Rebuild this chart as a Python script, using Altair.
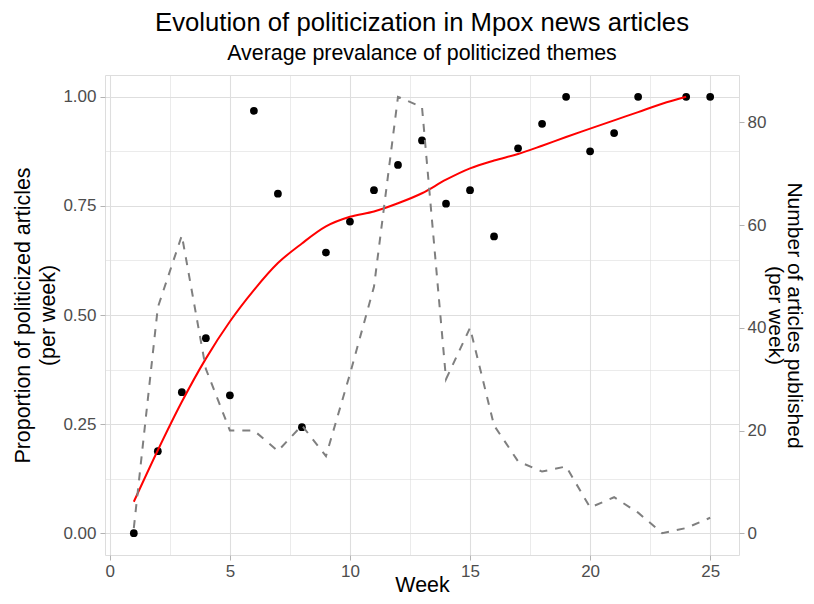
import altair as alt
import pandas as pd

weeks_prop = [1, 2, 3, 4, 5, 6, 7, 8, 9, 10, 11, 12, 13, 14, 15, 16, 17, 18, 19, 20, 21, 22, 24, 25]
proportion = [0.0, 0.188, 0.323, 0.447, 0.316, 0.968, 0.778, 0.243, 0.643, 0.714, 0.786, 0.844,
              0.900, 0.755, 0.786, 0.680, 0.882, 0.938, 1.0, 0.875, 0.917, 1.0, 1.0, 1.0]

weeks_smooth = list(range(1, 25))
smooth = [0.072, 0.19, 0.301, 0.40, 0.485, 0.557, 0.619, 0.664, 0.703, 0.725, 0.737, 0.756,
          0.779, 0.81, 0.836, 0.854, 0.869, 0.888, 0.908, 0.927, 0.946, 0.965, 0.984, 1.0]

weeks_count = list(range(1, 26))
articles = [1, 44, 58, 32, 20, 20, 16, 21, 15, 31, 48, 85, 83, 30, 40, 21, 14, 12, 13, 5, 7, 4, 0, 1, 3]

SCALE = 85
FONT = "Liberation Sans"

df_p = pd.DataFrame({"week": weeks_prop, "prop": proportion})
df_s = pd.DataFrame({"week": weeks_smooth, "fit": smooth})
df_c = pd.DataFrame({"week": weeks_count, "n": articles})

x_vals = [i * 2.5 for i in range(11)]
y_vals = [i * 0.125 for i in range(9)]

x_axis = alt.Axis(
    title="Week", values=x_vals, labelExpr="datum.value % 5 === 0 ? datum.label : ''",
    format="d", grid=True, gridColor="#DEDEDE",
    gridWidth={"condition": {"test": "datum.value % 5 === 0", "value": 1.1}, "value": 0.6},
    tickOpacity={"condition": {"test": "datum.value % 5 === 0", "value": 1}, "value": 0},
    domain=False, tickColor="#B3B3B3", tickSize=5, tickWidth=1,
    labelColor="#4D4D4D", labelFontSize=17, labelFont=FONT, labelPadding=3,
    labelOverlap=False, labelFlush=False,
    titleFont=FONT, titleFontSize=21.4, titleFontWeight="normal", titleColor="black",
    titleX=317, titleY=36, titleBaseline="alphabetic", titleAlign="center",
)

y_axis = alt.Axis(
    title=["Proportion of politicized articles", "(per week)"], values=y_vals,
    format=".2f", labelExpr="(datum.value * 4) % 1 === 0 ? datum.label : ''",
    grid=True, gridColor="#DEDEDE",
    gridWidth={"condition": {"test": "(datum.value * 4) % 1 === 0", "value": 1.1}, "value": 0.6},
    tickOpacity={"condition": {"test": "(datum.value * 4) % 1 === 0", "value": 1}, "value": 0},
    domain=False, tickColor="#B3B3B3", tickSize=5, tickWidth=1,
    labelColor="#4D4D4D", labelFontSize=17, labelFont=FONT, labelPadding=4,
    labelOverlap=False, labelFlush=False,
    titleFont=FONT, titleFontSize=21.4, titleFontWeight="normal", titleColor="black",
    titleLineHeight=25, titleAngle=270, titleX=-82, titleY=240,
    titleBaseline="middle", titleAlign="center",
)

y2_axis = alt.Axis(
    title=["Number of articles published", "(per week)"], orient="right",
    values=[0, 20, 40, 60, 80], format="d", grid=False,
    domain=False, tickColor="#B3B3B3", tickSize=5, tickWidth=1,
    labelColor="#4D4D4D", labelFontSize=17, labelFont=FONT, labelPadding=3,
    labelOverlap=False, labelFlush=False,
    titleFont=FONT, titleFontSize=21, titleFontWeight="normal", titleColor="black",
    titleLineHeight=19.5, titleAngle=90, titleX=54.5, titleY=240,
    titleBaseline="middle", titleAlign="center",
)

x_enc = alt.X("week:Q", scale=alt.Scale(domain=[-0.2, 26.2], nice=False, zero=False), axis=x_axis)
y_scale = alt.Scale(domain=[-0.05, 1.05], nice=False, zero=False)
y2_scale = alt.Scale(domain=[-0.05 * SCALE, 1.05 * SCALE], nice=False, zero=False)

counts = alt.Chart(df_c).mark_line(color="#7F7F7F", strokeWidth=2, strokeDash=[8, 8]).encode(
    x=x_enc, y=alt.Y("n:Q", scale=y2_scale, axis=y2_axis)
)

points = alt.Chart(df_p).mark_circle(color="black", size=60, opacity=1).encode(
    x=x_enc, y=alt.Y("prop:Q", scale=y_scale, axis=y_axis)
)

fit = alt.Chart(df_s).mark_line(color="#FF0000", strokeWidth=2, interpolate="monotone").encode(
    x=x_enc, y=alt.Y("fit:Q", scale=y_scale, axis=y_axis)
)

left = alt.layer(points, fit)

chart = alt.layer(left, counts).resolve_scale(y="independent").properties(
    width=634, height=480,
    autosize=alt.AutoSizeParams(type="none"),
    padding={"left": 97, "top": 67, "right": 67, "bottom": 41},
    title=alt.TitleParams(
        text="Evolution of politicization in Mpox news articles",
        subtitle="Average prevalance of politicized themes",
        anchor="middle", font=FONT, fontSize=25.7, fontWeight="normal", color="black",
        subtitleFont=FONT, subtitleFontSize=21.4, subtitleColor="black",
        subtitlePadding=6, offset=10,
    ),
).configure_view(stroke="#B3B3B3", strokeWidth=1).configure(background="white")

chart.save("out.html", embed_options={"renderer": "svg", "actions": False})
